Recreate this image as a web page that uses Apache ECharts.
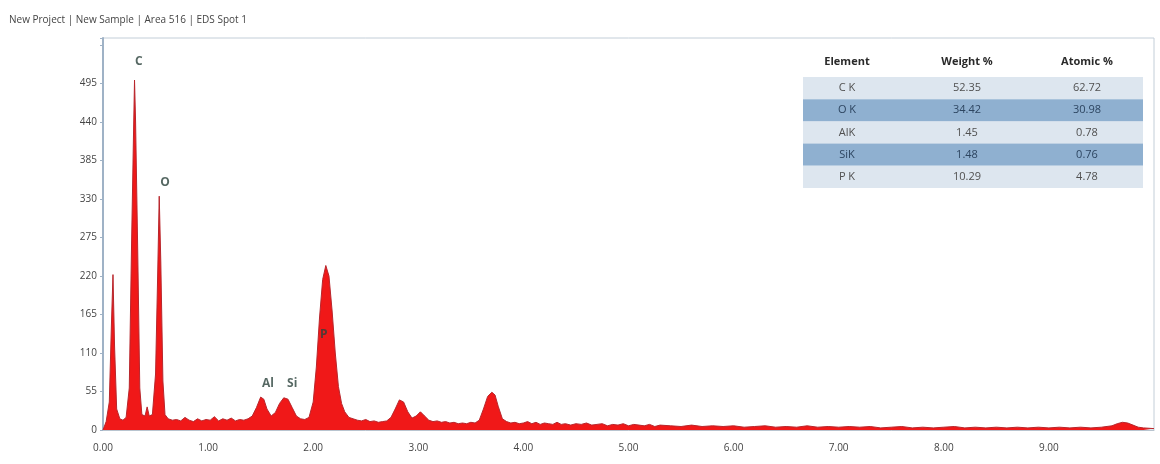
<!DOCTYPE html>
<html><head><meta charset="utf-8">
<script src="https://cdn.jsdelivr.net/npm/echarts@6/dist/echarts.min.js"></script>
<style>html,body{margin:0;padding:0;background:#fff}#c{width:1160px;height:464px}</style>
</head><body><div id="c"></div>
<script>
const titleText = 'New Project | New Sample | Area 516 | EDS Spot 1';
const energies = [0.00,0.03,0.06,0.08,0.095,0.11,0.13,0.16,0.19,0.22,0.25,0.27,0.29,0.30,0.31,0.33,0.35,0.37,0.40,0.42,0.44,0.47,0.50,0.52,0.535,0.55,0.57,0.59,0.62,0.66,0.70,0.74,0.78,0.82,0.86,0.90,0.94,0.98,1.02,1.06,1.10,1.14,1.18,1.22,1.26,1.30,1.34,1.38,1.42,1.46,1.50,1.53,1.56,1.60,1.64,1.68,1.72,1.76,1.80,1.84,1.88,1.92,1.96,2.00,2.03,2.06,2.09,2.12,2.15,2.18,2.21,2.24,2.27,2.30,2.34,2.38,2.42,2.46,2.50,2.54,2.58,2.62,2.66,2.70,2.74,2.78,2.82,2.86,2.90,2.94,2.98,3.02,3.06,3.10,3.14,3.18,3.22,3.26,3.30,3.34,3.38,3.42,3.46,3.50,3.54,3.58,3.62,3.66,3.70,3.73,3.76,3.80,3.84,3.88,3.92,3.96,4.00,4.04,4.08,4.12,4.16,4.20,4.24,4.28,4.32,4.36,4.40,4.45,4.50,4.55,4.60,4.65,4.70,4.75,4.80,4.85,4.90,4.95,5.00,5.05,5.10,5.15,5.20,5.25,5.30,5.40,5.50,5.60,5.70,5.80,5.90,6.00,6.10,6.20,6.30,6.40,6.50,6.60,6.70,6.80,6.90,7.00,7.10,7.20,7.30,7.40,7.50,7.60,7.70,7.80,7.90,8.00,8.10,8.20,8.30,8.40,8.50,8.60,8.70,8.80,8.90,9.00,9.10,9.20,9.30,9.40,9.50,9.60,9.65,9.70,9.75,9.80,9.85,9.90,10.00];
const counts = [0,12,40,150,222,120,30,16,14,18,60,250,420,500,440,260,60,22,20,33,20,22,80,220,334,240,70,22,16,14,15,13,18,14,12,16,13,15,14,19,13,16,14,17,13,15,14,16,20,32,47,44,30,20,25,38,46,44,32,20,16,15,18,40,90,160,215,235,220,170,110,62,38,26,18,16,14,13,15,12,13,11,12,13,18,30,43,40,26,17,20,26,20,14,12,13,11,12,10,11,9,10,9,11,10,14,30,48,54,50,34,16,12,10,11,9,10,12,9,11,8,10,9,8,11,8,9,7,9,8,10,7,8,9,6,8,7,9,6,8,7,6,8,5,7,6,5,7,5,6,5,6,4,5,6,4,5,4,6,4,5,4,5,4,5,3,4,5,3,4,3,4,5,3,4,3,4,3,4,3,4,3,4,3,4,3,4,6,9,11,10,7,4,3,2];
const peakNames = ['C','O','Al','Si','P'];
const peakLabelEnergy = [0.34,0.59,1.57,1.80,2.10];
const peakLabelCounts = [527,354,67,67,136];
const xTicks = [0,1,2,3,4,5,6,7,8,9];
const yTicks = [0,55,110,165,220,275,330,385,440,495];
const tableHeader = ['Element','Weight %','Atomic %'];
const tableElements = ['C K','O K','AlK','SiK','P K'];
const tableWeight = ['52.35','34.42','1.45','1.48','10.29'];
const tableAtomic = ['62.72','30.98','0.78','0.76','4.78'];

const chart = echarts.init(document.getElementById('c'), null, {renderer:'canvas'});
const spectrum = energies.map((e,i)=>[e,counts[i]]);
const labels = peakNames.map((n,i)=>({name:n,value:[peakLabelEnergy[i],peakLabelCounts[i]]}));

const colX = [847,967,1087];
const rowTop = 77, rowH = 22.2, tblL = 803, tblR = 1143;
const graphics = [];
tableHeader.forEach((h,j)=>graphics.push({type:'text',x:colX[j],y:62,style:{text:h,font:'bold 11px "Open Sans", sans-serif',fill:'#2a2a2a',align:'center',verticalAlign:'middle'}}));
tableElements.forEach((el,i)=>{
  const y = rowTop + i*rowH;
  graphics.push({type:'rect',shape:{x:tblL,y:y,width:tblR-tblL,height:rowH},style:{fill: i%2===1 ? '#8fb0d0' : '#dde6ef'}});
  [el,tableWeight[i],tableAtomic[i]].forEach((t,j)=>graphics.push({type:'text',x:colX[j],y:y+rowH/2,style:{text:t,font:'11px "Open Sans", sans-serif',fill: i%2===1 ? '#2d4560' : '#505050',align:'center',verticalAlign:'middle'}}));
});

chart.setOption({
  animation:false,
  backgroundColor:'#fff',
  title:{text:titleText,left:4,top:10,textStyle:{fontSize:10,fontWeight:'normal',color:'#444',fontFamily:'"Open Sans", sans-serif'}},
  grid:{left:103,right:6,top:38,bottom:34,show:true,borderColor:'#c3ced8',borderWidth:1,backgroundColor:'#fff'},
  xAxis:{type:'value',min:0,max:10,interval:1,
    axisLine:{show:true,lineStyle:{color:'#b8c4cf',width:1}},
    axisTick:{show:false},splitLine:{show:false},
    axisLabel:{color:'#444',fontSize:10,margin:13,fontFamily:'"Open Sans", sans-serif',
      formatter:v=> xTicks.includes(v) ? v.toFixed(2) : ''}},
  yAxis:{type:'value',min:0,max:560,interval:55,
    axisLine:{show:true,lineStyle:{color:'#9fb2c6',width:2}},
    axisTick:{show:true,length:3,lineStyle:{color:'#9fb2c6'}},splitLine:{show:false},
    axisLabel:{color:'#444',fontSize:10,margin:6,fontFamily:'"Open Sans", sans-serif',
      formatter:v=> yTicks.includes(v) ? String(v) : ''}},
  graphic:graphics,
  series:[
    {type:'line',data:spectrum,symbol:'none',smooth:false,
     lineStyle:{color:'#b8262c',width:1},
     areaStyle:{color:'#f01818',opacity:1},z:2},
    {type:'scatter',data:labels,symbolSize:0,z:5,
     label:{show:true,position:'inside',formatter:p=>p.name,color:'#2c423c',fontSize:12,fontWeight:'bold',fontFamily:'"Open Sans", sans-serif'}}
  ]
});
</script></body></html>
